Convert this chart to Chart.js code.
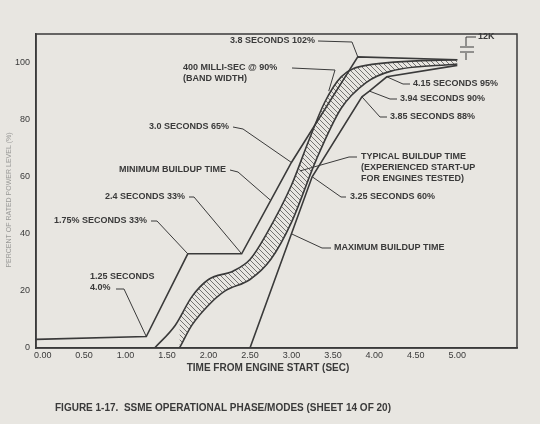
<!DOCTYPE html>
<html><head><meta charset="utf-8">
<script src="https://cdn.jsdelivr.net/npm/chart.js@4/dist/chart.umd.min.js"></script>
<style>html,body{margin:0;padding:0;background:#e8e6e1}#w{width:540px;height:424px}</style>
</head><body><div id="w"><canvas id="c"></canvas></div>
<script>
const xTicks=[0,0.5,1,1.5,2,2.5,3,3.5,4,4.5,5];
const yTicks=[0,20,40,60,80,100];
const minX=[-0.1,1.25,1.75,2.4,3.0,3.8,5.0];
const minY=[3,4,33,33,65,102,101];
const maxX=[2.5,3.25,3.85,3.94,4.15,5.0];
const maxY=[0,60,88,90,95,99];
const typUpX=[1.35,1.6,1.8,2.0,2.3,2.5,2.7,3.0,3.2,3.4,3.6,3.9,5.0];
const typUpY=[0,8,18,24,27,31,40,57,72,86,95,99,101];
const typLoX=[1.65,1.8,2.0,2.2,2.5,2.75,3.0,3.3,3.6,3.9,4.2,5.0];
const typLoY=[0,8,15,20,24,31,44,66,84,93,97,99.5];
const pts=(xs,ys)=>xs.map((x,i)=>({x,y:ys[i]}));
const INK='#3a3a3a';
const FONT='bold 9px "Liberation Sans", Arial, sans-serif';
function hatch(){const p=document.createElement('canvas');p.width=5;p.height=5;const g=p.getContext('2d');
g.strokeStyle='#555';g.lineWidth=0.8;g.beginPath();g.moveTo(0,0);g.lineTo(5,5);g.moveTo(-1,4);g.lineTo(1,6);g.moveTo(4,-1);g.lineTo(6,1);g.stroke();
return g.createPattern(p,'repeat');}
const notes=[
 {t:['3.8 SECONDS 102%'],a:'right',x:315,y:41,path:[[318,41],[352,42]],to:[3.8,102]},
 {t:['400 MILLI-SEC @ 90%','(BAND WIDTH)'],a:'left',x:183,y:68,path:[[292,68],[335,70]],to:[3.45,90]},
 {t:['4.15 SECONDS 95%'],a:'left',x:413,y:84,path:[[410,84],[403,84]],to:[4.15,95]},
 {t:['3.94 SECONDS 90%'],a:'left',x:400,y:99,path:[[397,99],[390,99]],to:[3.94,90]},
 {t:['3.85 SECONDS 88%'],a:'left',x:390,y:117,path:[[387,117],[380,117]],to:[3.85,88]},
 {t:['TYPICAL BUILDUP TIME','(EXPERIENCED START-UP','FOR ENGINES TESTED)'],a:'left',x:361,y:157,path:[[357,157],[349,157]],to:[3.1,62]},
 {t:['3.25 SECONDS 60%'],a:'left',x:350,y:197,path:[[346,197],[341,197]],to:[3.25,60]},
 {t:['MAXIMUM BUILDUP TIME'],a:'left',x:334,y:248,path:[[331,248],[322,248]],to:[3.0,40]},
 {t:['3.0 SECONDS 65%'],a:'right',x:229,y:127,path:[[233,127],[243,129]],to:[3.0,65]},
 {t:['MINIMUM BUILDUP TIME'],a:'right',x:226,y:170,path:[[230,170],[238,172]],to:[2.75,51.7]},
 {t:['2.4 SECONDS 33%'],a:'right',x:185,y:197,path:[[189,197],[194,197]],to:[2.4,33]},
 {t:['1.75% SECONDS 33%'],a:'right',x:147,y:221,path:[[151,221],[157,221]],to:[1.75,33]},
 {t:['1.25 SECONDS','4.0%'],a:'left',x:90,y:277,path:[[116,289],[124,289]],to:[1.25,4]}
];
const notePlugin={id:'notes',afterDraw(ch){const c=ch.ctx,xs=ch.scales.x,ys=ch.scales.y;
 c.save();c.font=FONT;c.fillStyle=INK;c.strokeStyle=INK;c.lineWidth=1;c.textBaseline='middle';
 notes.forEach(n=>{c.textAlign=n.a;n.t.forEach((s,i)=>c.fillText(s,n.x,n.y+i*11));
  c.beginPath();c.moveTo(n.path[0][0],n.path[0][1]);n.path.slice(1).forEach(p=>c.lineTo(p[0],p[1]));
  c.lineTo(xs.getPixelForValue(n.to[0]),ys.getPixelForValue(n.to[1]));c.stroke();});
 c.textAlign='left';c.fillText('12K',478,37);
 c.beginPath();c.moveTo(476,37);c.lineTo(466,37);c.lineTo(466,46);c.moveTo(460,47);c.lineTo(474,47);
 c.moveTo(460,52);c.lineTo(474,52);c.moveTo(466,53);c.lineTo(466,60);c.stroke();
 c.font='bold 10px "Liberation Sans", Arial, sans-serif';c.textAlign='center';
 c.fillText('TIME FROM ENGINE START (SEC)',268,368);
 c.textAlign='left';c.fillText('FIGURE 1-17.  SSME OPERATIONAL PHASE/MODES (SHEET 14 OF 20)',55,408);
 c.save();c.translate(9,200);c.rotate(-Math.PI/2);c.textAlign='center';c.fillStyle='#9a9a98';c.font='7px "Liberation Sans", Arial';
 c.fillText('PERCENT OF RATED POWER LEVEL (%)',0,0);c.restore();
 c.restore();}};
const ln={borderColor:INK,borderWidth:1.6,pointRadius:0,fill:false};
new Chart(document.getElementById('c'),{type:'line',
 data:{datasets:[
  {...ln,data:pts(minX,minY),tension:0},
  {...ln,data:pts(maxX,maxY),tension:0},
  {...ln,data:pts(typUpX,typUpY),tension:0.4,cubicInterpolationMode:'monotone'},
  {...ln,data:pts(typLoX,typLoY),tension:0.4,cubicInterpolationMode:'monotone',fill:'-1',backgroundColor:hatch()}
 ]},
 options:{responsive:true,maintainAspectRatio:false,animation:false,
  layout:{padding:{left:0,right:23,top:34,bottom:0}},
  plugins:{legend:{display:false},tooltip:{enabled:false}},
  scales:{
   x:{type:'linear',min:-0.08,max:5.72,afterBuildTicks:a=>{a.ticks=xTicks.map(v=>({value:v}))},
      afterFit:a=>{a.height=76},
      grid:{display:false,drawTicks:true,tickLength:2,color:INK},border:{color:INK,width:1.5},
      ticks:{color:INK,font:{size:9,family:'"Liberation Sans", Arial'},padding:0,maxRotation:0,callback:v=>v.toFixed(2)}},
   y:{min:0,max:110,afterBuildTicks:a=>{a.ticks=yTicks.map(v=>({value:v}))},
      afterFit:a=>{a.width=36},
      grid:{display:false,tickLength:4,color:INK},border:{color:INK,width:1.5},
      ticks:{color:INK,font:{size:9,family:'"Liberation Sans", Arial'},padding:2}}
  }},
 plugins:[notePlugin,{id:'frame',beforeDraw(ch){const a=ch.chartArea,c=ch.ctx;c.save();c.strokeStyle=INK;c.lineWidth=1.5;c.strokeRect(a.left,a.top,a.right-a.left,a.bottom-a.top);c.restore();}}]
});
</script></body></html>
